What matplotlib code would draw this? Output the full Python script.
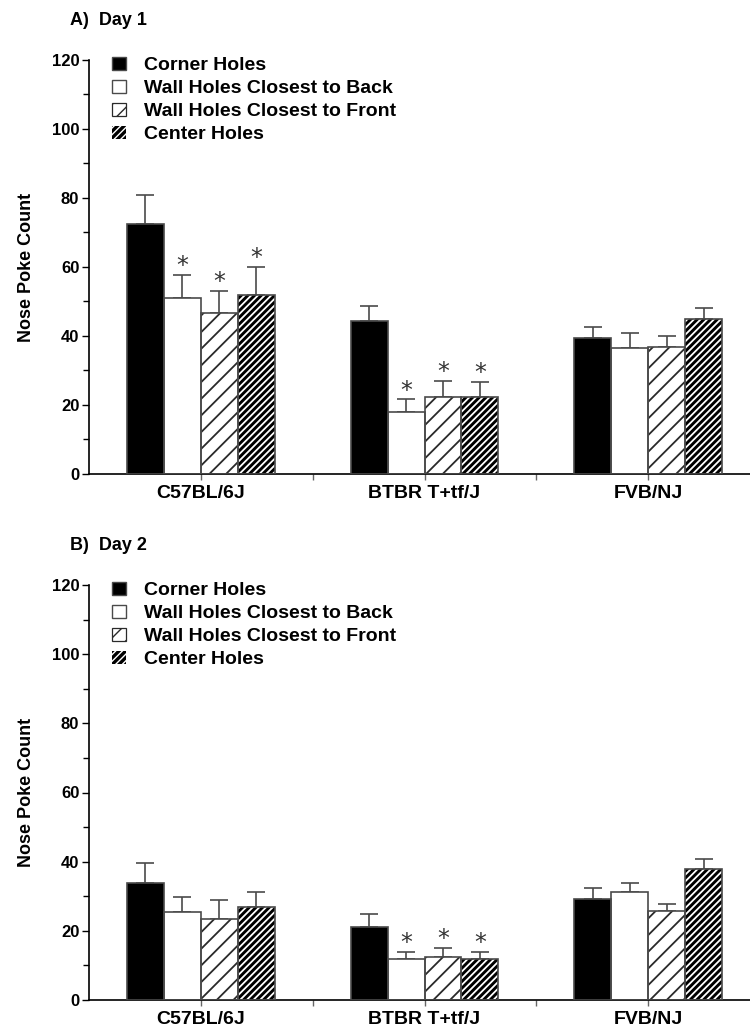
import matplotlib
matplotlib.use("Agg")
import matplotlib.pyplot as plt
from matplotlib.patches import Patch
from matplotlib.ticker import MultipleLocator
import numpy as np

plt.rcParams['font.family'] = ['Liberation Sans', 'DejaVu Sans']

strains = ["C57BL/6J", "BTBR T+tf/J", "FVB/NJ"]
hole_types = ["Corner Holes", "Wall Holes Closest to Back",
              "Wall Holes Closest to Front", "Center Holes"]

# Mean nose-poke counts per hole type (rows) for each strain (columns)
day1_mean = [[72.4, 44.4, 39.5],
             [50.9, 18.1, 36.6],
             [46.7, 22.4, 36.9],
             [51.9, 22.2, 44.8]]
day1_sem = [[8.4, 4.2, 3.2],
            [6.9, 3.5, 4.2],
            [6.4, 4.6, 3.1],
            [8.1, 4.6, 3.3]]
day1_sig = [[False, False, False],
            [True, True, False],
            [True, True, False],
            [True, True, False]]

day2_mean = [[33.7, 21.0, 29.3],
             [25.4, 11.8, 31.2],
             [23.4, 12.3, 25.6],
             [26.8, 12.0, 38.0]]
day2_sem = [[5.8, 4.0, 3.2],
            [4.5, 2.2, 2.5],
            [5.5, 2.8, 2.2],
            [4.3, 2.0, 2.9]]
day2_sig = [[False, False, False],
            [False, True, False],
            [False, True, False],
            [False, True, False]]

panel_titles = ["A)  Day 1", "B)  Day 2"]

EDGE = "#4a4a4a"
BAR_W = 0.165

# face, hatch, hatch colour, hatch line width for each hole type
styles = [("black", None, None, 1.0),
          ("white", None, None, 1.0),
          ("white", "//", "#2a2a2a", 1.3),
          ("black", "/////", "white", 1.3)]


def draw_panel(ax, means, sems, sig, title):
    x = np.arange(len(strains))
    n = len(hole_types)
    for i in range(n):
        face, hatch, hcol, hlw = styles[i]
        xs = x + (i - (n - 1) / 2) * BAR_W
        vals = means[i]
        errs = sems[i]
        with plt.rc_context({'hatch.linewidth': hlw}):
            if hatch:
                ax.bar(xs, vals, BAR_W, color=face, edgecolor=hcol,
                       hatch=hatch, linewidth=0, zorder=2)
            else:
                ax.bar(xs, vals, BAR_W, color=face, linewidth=0, zorder=2)
        ax.bar(xs, vals, BAR_W, fill=False, edgecolor=EDGE, linewidth=1.2,
               zorder=3)
        ax.errorbar(xs, vals, yerr=[np.zeros(len(vals)), errs], fmt="none",
                    ecolor=EDGE, elinewidth=1.2, capsize=6.5, capthick=1.2,
                    zorder=1)
        for xx, v, e, s in zip(xs, vals, errs, sig[i]):
            if s:
                ax.text(xx, v + e + 2.5, "*", ha="center", va="center",
                        fontsize=17, color="#333333", family="DejaVu Sans")

    ax.set_ylim(0, 120)
    ax.set_xlim(-0.5, 2.5)
    ax.yaxis.set_major_locator(MultipleLocator(20))
    ax.yaxis.set_minor_locator(MultipleLocator(10))
    ax.set_xticks(x)
    ax.set_xticks([0.5, 1.5], minor=True)
    ax.set_xticklabels(strains, fontsize=14, fontweight="bold")
    ax.tick_params(axis="y", which="major", length=5, width=1,
                   labelsize=12, pad=2)
    ax.tick_params(axis="y", which="minor", length=4, width=1)
    ax.tick_params(axis="x", which="both", length=4, width=1,
                   color="#666666", pad=4)
    for lab in ax.get_yticklabels():
        lab.set_fontweight("bold")
    for side in ("top", "right"):
        ax.spines[side].set_visible(False)
    for side in ("left", "bottom"):
        ax.spines[side].set_linewidth(1.2)
    ax.set_ylabel("Nose Poke Count", fontsize=13, fontweight="bold",
                  labelpad=12)
    ax.text(-19 / 671, 1.095, title, transform=ax.transAxes, fontsize=13,
            fontweight="bold", ha="left", va="center")

    handles = []
    for face, hatch, hcol, hlw in styles:
        with plt.rc_context({'hatch.linewidth': hlw}):
            if hatch == "//":
                handles.append(Patch(facecolor=face, edgecolor=hcol,
                                     hatch=hatch, linewidth=0.9))
            elif hatch:
                handles.append(Patch(facecolor=face, edgecolor=hcol,
                                     hatch=hatch, linewidth=0))
            else:
                handles.append(Patch(facecolor=face, edgecolor=EDGE,
                                     linewidth=1.0))
    leg = ax.legend(handles, hole_types, loc="upper left",
                    bbox_to_anchor=(0.0146, 1.041), frameon=False,
                    fontsize=14, handlelength=0.7, handleheight=0.7,
                    handletextpad=0.9, labelspacing=0.28, borderpad=0.2)
    for t in leg.get_texts():
        t.set_fontweight("bold")


fig = plt.figure(figsize=(7.5, 10.32), dpi=100)
ax1 = fig.add_axes([89 / 750, 1 - 474 / 1032, 671 / 750, 414 / 1032])
ax2 = fig.add_axes([89 / 750, 1 - 1000 / 1032, 671 / 750, 415 / 1032])

draw_panel(ax1, day1_mean, day1_sem, day1_sig, panel_titles[0])
draw_panel(ax2, day2_mean, day2_sem, day2_sig, panel_titles[1])

fig.savefig("out.png", dpi=100)
